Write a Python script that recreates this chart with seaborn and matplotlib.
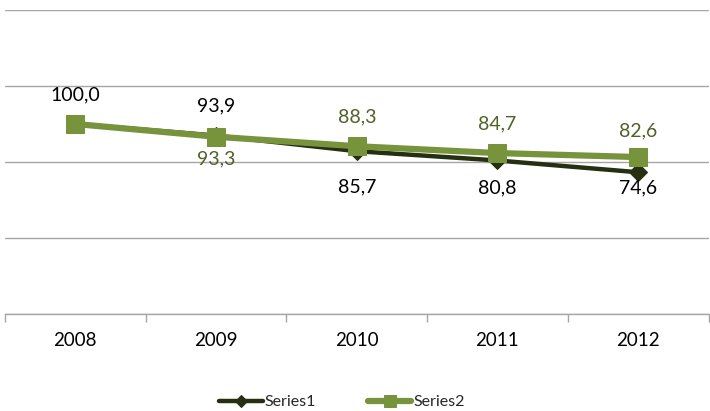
import matplotlib
matplotlib.use("Agg")
import matplotlib.pyplot as plt
import seaborn as sns
import pandas as pd
from matplotlib.ticker import FixedLocator

years = ["2008", "2009", "2010", "2011", "2012"]
series1 = [100.0, 93.9, 85.7, 80.8, 74.6]
series2 = [100.0, 93.3, 88.3, 84.7, 82.6]
# label offsets in pixels (positive = above, 0 = no label)
s1_off = [29, 30, -36, -27, -16]
s2_off = [0, -22, 29, 29, 26]

sns.set_theme(style="white")
plt.rcParams['font.family'] = ['Lato', 'DejaVu Sans']

df = pd.DataFrame({
    "x": list(range(len(years))) * 2,
    "value": series1 + series2,
    "series": ["Series1"] * len(years) + ["Series2"] * len(years),
})

c1 = "#252f12"
c2 = "#77933c"
lab2 = "#4f6228"

fig = plt.figure(figsize=(7.10, 4.11), dpi=100)
ax = fig.add_axes([5/710, 1 - 314/411, 703.5/710, (314 - 10)/411])

sns.lineplot(data=df[df.series == "Series1"], x="x", y="value", ax=ax, color=c1,
             lw=3.2, marker="D", markersize=9, markeredgecolor=c1, label="Series1",
             zorder=3)
sns.lineplot(data=df[df.series == "Series2"], x="x", y="value", ax=ax, color=c2,
             lw=4.5, marker="s", markersize=13, markeredgecolor=c2, label="Series2",
             zorder=4)

ax.set_xlim(-0.5, len(years) - 0.5)
ax.set_ylim(0, 160)
ax.set_yticks([0, 40, 80, 120, 160])
ax.set_yticklabels([])
ax.tick_params(axis='y', length=0)
ax.yaxis.grid(True, color="#a6a6a6", lw=1)
ax.set_axisbelow(True)
for s in ["top", "right", "left"]:
    ax.spines[s].set_visible(False)
ax.spines["bottom"].set_color("#a6a6a6")
ax.spines["bottom"].set_linewidth(1)

ax.set_xticks(range(len(years)))
ax.set_xticklabels(years, fontsize=13.5, color="black")
ax.tick_params(axis='x', which='major', length=0, pad=13)
ax.xaxis.set_minor_locator(FixedLocator([i - 0.5 for i in range(len(years) + 1)]))
ax.tick_params(axis='x', which='minor', length=6, color="#a6a6a6", width=1, bottom=True)
ax.set_xlabel("")
ax.set_ylabel("")

for i, (v, o) in enumerate(zip(series1, s1_off)):
    if o:
        ax.annotate(f"{v:.1f}".replace(".", ","), (i, v), xytext=(0, o),
                    textcoords="offset pixels",
                    ha="center", va="center", fontsize=14, color="black")
for i, (v, o) in enumerate(zip(series2, s2_off)):
    if o:
        ax.annotate(f"{v:.1f}".replace(".", ","), (i, v), xytext=(0, o),
                    textcoords="offset pixels",
                    ha="center", va="center", fontsize=14, color=lab2)

ax.get_legend().remove()
h, l = ax.get_legend_handles_labels()
fig.legend(h, l, loc="center", bbox_to_anchor=(342/710, 1 - 402/411), ncol=2,
           frameon=False, fontsize=11.5, handlelength=2.7, handletextpad=0.1,
           columnspacing=3.3, markerscale=0.7)

fig.savefig("out.png", dpi=100)
